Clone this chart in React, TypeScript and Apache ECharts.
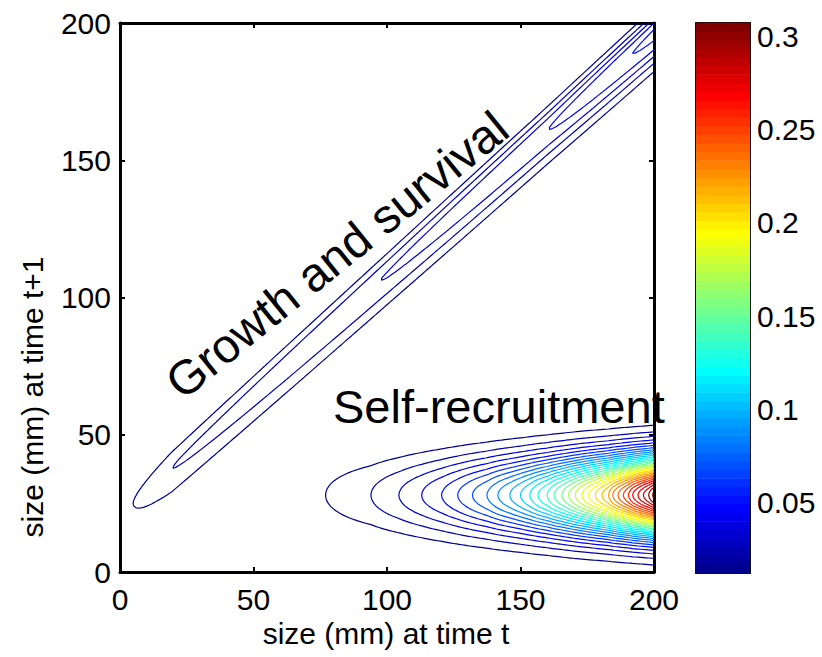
import React, { useEffect, useRef } from "react";
import * as echarts from "echarts";

// Axis ticks
const sizeTicks = [0, 50, 100, 150, 200];
const colorbarTicks = [0.05, 0.1, 0.15, 0.2, 0.25, 0.3];
const colorLimits = [0.0122, 0.3072];

// Contour levels of the kernel surface
const contourLevels = [
  0.0122, 0.0217, 0.0312, 0.0407, 0.0503, 0.0598, 0.0693, 0.0788,
  0.0883, 0.0978, 0.1074, 0.1169, 0.1264, 0.1359, 0.1454, 0.1549,
  0.1645, 0.174, 0.1835, 0.193, 0.2025, 0.212, 0.2216, 0.2311,
  0.2406, 0.2501, 0.2596, 0.2691, 0.2787, 0.2882, 0.2977, 0.3072,
];

// Self-recruitment: parent size (mm) at which each contour level is first reached
const recruitOnsetSizes = [
  77, 94, 104.5, 113, 120.5, 126.5, 132, 137.5, 141.5, 146, 150, 153.5,
  156.5, 160, 162.5, 165.5, 168, 170.5, 173, 175.5, 178, 180.5, 183, 184.5,
  186.5, 188.5, 190.5, 192, 194, 196, 198, 199.5,
];
// recruit size distribution: [mean, sd] in mm
const recruitSize = [28, 10];

// Growth and survival: size at which each of the first levels is first reached
const growthOnsetSizes = [4.9, 19.4, 97.4, 160.4, 192];
// expected size at t+1: [intercept, slope]
const growthMean = [20.8, 0.876];
// spread of size at t+1 above / below the mean (mm)
const growthSpread = [5.5, 8];

const FONT = "'Liberation Sans', Arial, Helvetica, sans-serif";

function interpolate(xs: number[], ys: number[], x: number): number {
  const n = xs.length;
  if (n === 1) return ys[0];
  let i = 0;
  if (x <= xs[0]) i = 0;
  else if (x >= xs[n - 1]) i = n - 2;
  else {
    while (i < n - 2 && x > xs[i + 1]) i++;
  }
  const t = (x - xs[i]) / (xs[i + 1] - xs[i]);
  return ys[i] + t * (ys[i + 1] - ys[i]);
}

function kernel(x: number, y: number): number {
  const fec = Math.max(0, interpolate(recruitOnsetSizes, contourLevels, x));
  const dy = y - recruitSize[0];
  const recruit = fec * Math.exp(-(dy * dy) / (2 * recruitSize[1] * recruitSize[1]));
  const peak = Math.max(
    0,
    interpolate(growthOnsetSizes, contourLevels.slice(0, growthOnsetSizes.length), x)
  );
  const m = growthMean[0] + growthMean[1] * x;
  const s = y >= m ? growthSpread[0] : growthSpread[1];
  const gy = y - m;
  const growth = peak * Math.exp(-(gy * gy) / (2 * s * s));
  return recruit + growth;
}

function jetColor(k: number): string {
  const t = (k + 1) / 64;
  const c = (v: number) => Math.round(255 * Math.max(0, Math.min(1, v)));
  const r = c(Math.min(4 * t - 1.5, -4 * t + 4.5));
  const g = c(Math.min(4 * t - 0.5, -4 * t + 3.5));
  const b = c(Math.min(4 * t + 0.5, -4 * t + 2.5));
  return `rgb(${r},${g},${b})`;
}

function levelColor(v: number): string {
  const f = (v - colorLimits[0]) / (colorLimits[1] - colorLimits[0]);
  return jetColor(Math.max(0, Math.min(63, Math.floor(f * 64))));
}

type Pt = [number, number];

// Marching squares on a regular grid, returning joined polylines per level
function buildContours(): Pt[][][] {
  const h = 1;
  const n = Math.round(200 / h) + 1;
  const z: number[][] = [];
  for (let j = 0; j < n; j++) {
    const row: number[] = [];
    for (let i = 0; i < n; i++) row.push(kernel(i * h, j * h));
    z.push(row);
  }
  return contourLevels.map((L) => {
    const segs: [Pt, Pt][] = [];
    for (let j = 0; j < n - 1; j++) {
      for (let i = 0; i < n - 1; i++) {
        const a = z[j][i];
        const b = z[j][i + 1];
        const c = z[j + 1][i + 1];
        const d = z[j + 1][i];
        const code = (a >= L ? 1 : 0) | (b >= L ? 2 : 0) | (c >= L ? 4 : 0) | (d >= L ? 8 : 0);
        if (code === 0 || code === 15) continue;
        const x0 = i * h;
        const y0 = j * h;
        const B = (): Pt => [x0 + ((L - a) / (b - a)) * h, y0];
        const R = (): Pt => [x0 + h, y0 + ((L - b) / (c - b)) * h];
        const T = (): Pt => [x0 + ((L - d) / (c - d)) * h, y0 + h];
        const Lf = (): Pt => [x0, y0 + ((L - a) / (d - a)) * h];
        const center = (a + b + c + d) / 4 >= L;
        switch (code) {
          case 1: case 14: segs.push([B(), Lf()]); break;
          case 2: case 13: segs.push([B(), R()]); break;
          case 3: case 12: segs.push([Lf(), R()]); break;
          case 4: case 11: segs.push([R(), T()]); break;
          case 6: case 9: segs.push([B(), T()]); break;
          case 7: case 8: segs.push([Lf(), T()]); break;
          case 5:
            if (center) { segs.push([B(), R()]); segs.push([T(), Lf()]); }
            else { segs.push([B(), Lf()]); segs.push([R(), T()]); }
            break;
          case 10:
            if (center) { segs.push([B(), Lf()]); segs.push([R(), T()]); }
            else { segs.push([B(), R()]); segs.push([Lf(), T()]); }
            break;
        }
      }
    }
    // join segments into polylines
    const key = (p: Pt) => p[0].toFixed(5) + "," + p[1].toFixed(5);
    const map = new Map<string, number[]>();
    segs.forEach((s, idx) => {
      for (const p of s) {
        const k = key(p);
        const arr = map.get(k);
        if (arr) arr.push(idx);
        else map.set(k, [idx]);
      }
    });
    const used = new Array(segs.length).fill(false);
    const lines: Pt[][] = [];
    const next = (p: Pt): Pt | null => {
      const arr = map.get(key(p));
      if (!arr) return null;
      for (const idx of arr) {
        if (used[idx]) continue;
        used[idx] = true;
        const s = segs[idx];
        return key(s[0]) === key(p) ? s[1] : s[0];
      }
      return null;
    };
    for (let s = 0; s < segs.length; s++) {
      if (used[s]) continue;
      used[s] = true;
      const line: Pt[] = [segs[s][0], segs[s][1]];
      let p = next(line[line.length - 1]);
      while (p) { line.push(p); p = next(p); }
      p = next(line[0]);
      while (p) { line.unshift(p); p = next(p); }
      lines.push(line);
    }
    return lines;
  });
}

export default function App() {
  const ref = useRef<HTMLDivElement>(null);

  useEffect(() => {
    if (!ref.current) return;
    const chart = echarts.init(ref.current, undefined, { renderer: "svg" });
    const contours = buildContours();
    const bandCount = 64;
    const span = colorLimits[1] - colorLimits[0];

    const frameAxis = (extra: any) => ({
      type: "value",
      min: 0,
      max: 200,
      interval: 50,
      splitLine: { show: false },
      axisLine: { show: true, onZero: false, lineStyle: { color: "#000", width: 3 } },
      axisTick: { show: true, inside: true, length: 5, lineStyle: { color: "#000", width: 2 } },
      ...extra,
    });

    const tickLabel = { color: "#000", fontSize: 30, fontFamily: FONT };

    const barAxis = (extra: any) => ({
      type: "value",
      gridIndex: 1,
      min: colorLimits[0],
      max: colorLimits[1],
      splitLine: { show: false },
      axisLine: { show: true, onZero: false, lineStyle: { color: "#111", width: 2 } },
      axisTick: {
        show: true,
        inside: true,
        length: 4,
        customValues: colorbarTicks,
        lineStyle: { color: "#222", width: 1.5 },
      },
      ...extra,
    });

    chart.setOption({
      animation: false,
      backgroundColor: "#fff",
      grid: [
        { left: 120, top: 23, width: 534, height: 549 },
        { left: 696, top: 23, width: 54, height: 550 },
      ],
      xAxis: [
        frameAxis({
          gridIndex: 0,
          position: "bottom",
          axisLabel: { ...tickLabel, margin: 12, customValues: sizeTicks },
        }),
        frameAxis({ gridIndex: 0, position: "top", axisLabel: { show: false } }),
        {
          type: "value", gridIndex: 1, min: 0, max: 1, position: "bottom",
          axisLine: { show: true, onZero: false, lineStyle: { color: "#111", width: 2 } },
          axisTick: { show: false }, axisLabel: { show: false }, splitLine: { show: false },
        },
        {
          type: "value", gridIndex: 1, min: 0, max: 1, position: "top",
          axisLine: { show: true, onZero: false, lineStyle: { color: "#111", width: 2 } },
          axisTick: { show: false }, axisLabel: { show: false }, splitLine: { show: false },
        },
      ],
      yAxis: [
        frameAxis({
          gridIndex: 0,
          position: "left",
          axisLabel: { ...tickLabel, margin: 9, customValues: sizeTicks },
        }),
        frameAxis({ gridIndex: 0, position: "right", axisLabel: { show: false } }),
        barAxis({ position: "left", axisLabel: { show: false } }),
        barAxis({
          position: "right",
          axisLabel: { ...tickLabel, margin: 7, customValues: colorbarTicks },
        }),
      ],
      series: [
        {
          type: "custom",
          name: "bands",
          xAxisIndex: 2,
          yAxisIndex: 2,
          silent: true,
          z: 1,
          data: Array.from({ length: bandCount }, (_, k) => [0.5, colorLimits[0] + (k + 0.5) * span / bandCount, k]),
          renderItem: (params: any, api: any) => {
            const k = api.value(2);
            const lo = colorLimits[0] + (k * span) / bandCount;
            const hi = colorLimits[0] + ((k + 1) * span) / bandCount;
            const p0 = api.coord([0, hi]);
            const p1 = api.coord([1, lo]);
            return {
              type: "rect",
              shape: { x: p0[0], y: p0[1] - 0.3, width: p1[0] - p0[0], height: p1[1] - p0[1] + 0.6 },
              style: { fill: jetColor(k), stroke: null },
            };
          },
        },
        {
          type: "custom",
          name: "contours",
          xAxisIndex: 0,
          yAxisIndex: 0,
          silent: true,
          z: 2,
          data: contourLevels.map((v, i) => [i, 0, v]),
          renderItem: (params: any, api: any) => {
            const idx = params.dataIndex;
            const lines = contours[idx];
            let d = "";
            for (const line of lines) {
              line.forEach((p, j) => {
                const c = api.coord(p);
                d += (j === 0 ? "M" : "L") + c[0].toFixed(2) + " " + c[1].toFixed(2);
              });
            }
            if (!d) return null;
            return {
              type: "path",
              shape: { pathData: d },
              style: {
                fill: "none",
                stroke: levelColor(contourLevels[idx]),
                lineWidth: 1.2,
                lineJoin: "round",
              },
            };
          },
        },
      ],
      graphic: [
        {
          type: "text",
          x: 337,
          y: 255,
          rotation: (39 * Math.PI) / 180,
          style: {
            text: "Growth and survival",
            fontSize: 48,
            fontFamily: FONT,
            fill: "#000",
            align: "center",
            verticalAlign: "middle",
          },
        },
        {
          type: "text",
          x: 333,
          y: 406,
          style: {
            text: "Self-recruitment",
            fontSize: 47,
            fontFamily: FONT,
            fill: "#000",
            align: "left",
            verticalAlign: "middle",
          },
        },
        {
          type: "text",
          x: 386,
          y: 633,
          style: {
            text: "size (mm) at time t",
            fontSize: 30,
            fontFamily: FONT,
            fill: "#000",
            align: "center",
            verticalAlign: "middle",
          },
        },
        {
          type: "text",
          x: 32,
          y: 397,
          rotation: Math.PI / 2,
          style: {
            text: "size (mm) at time t+1",
            fontSize: 30,
            fontFamily: FONT,
            fill: "#000",
            align: "center",
            verticalAlign: "middle",
          },
        },
      ],
    });

    return () => chart.dispose();
  }, []);

  return (
    <div
      ref={ref}
      style={{ position: "fixed", left: 0, top: 0, width: 822, height: 657, background: "#fff" }}
    />
  );
}
